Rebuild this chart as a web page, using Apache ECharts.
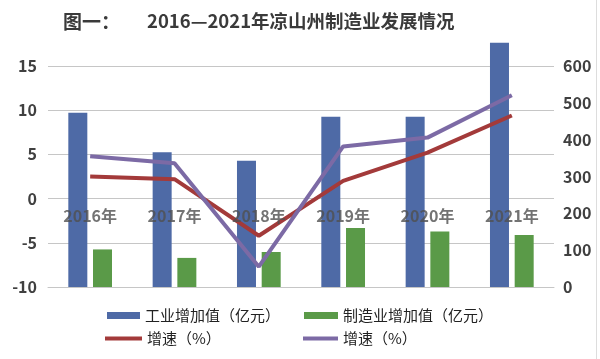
<!DOCTYPE html>
<html>
<head>
<meta charset="utf-8">
<script src="https://cdn.jsdelivr.net/npm/echarts@6/dist/echarts.min.js"></script>
<style>
  html, body { margin: 0; padding: 0; background: #ffffff; }
  #chart { width: 600px; height: 359px; }
</style>
</head>
<body>
<div id="chart"></div>
<script>
// ---- data ----
var years = ['2016年', '2017年', '2018年', '2019年', '2020年', '2021年'];
var industryValue = [473, 366, 343, 462, 462, 663];         // 工业增加值（亿元）
var manufacturingValue = [102, 79, 95, 160, 151, 141];      // 制造业增加值（亿元）
var industryGrowth = [2.5, 2.2, -4.2, 2.0, 5.2, 9.4];       // 增速(%) red
var manufacturingGrowth = [4.8, 4.0, -7.7, 5.9, 6.9, 11.7]; // 增速(%) purple
var categoryLabelBaseline = [0, 0, 0, 0, 0, 0];             // category labels sit on the 0 line
var leftTicks = { min: -10, max: 15, interval: 5 };
var rightTicks = { min: 0, max: 600, interval: 100 };

var nameBlue = '工业增加值（亿元）';
var nameGreen = '制造业增加值（亿元）';
var nameRed = '增速（%）';
var namePurple = '增速（%） ';

var FONT = '"Noto Sans CJK SC", "Noto Sans", sans-serif';
var chart = echarts.init(document.getElementById('chart'), null, { renderer: 'canvas' });

function legendFor(name, left, top, w, h) {
  return {
    data: [{ name: name, icon: 'rect' }],
    left: left, top: top, padding: 0,
    itemWidth: w, itemHeight: h,
    selectedMode: false,
    textStyle: { fontSize: 15, color: '#222', fontFamily: FONT }
  };
}

chart.setOption({
  backgroundColor: '#ffffff',
  animation: false,
  title: [
    { text: '图一：', left: 63, top: 12, padding: 0,
      textStyle: { fontSize: 19, fontWeight: 'bold', color: '#3a3a3a', fontFamily: FONT } },
    { text: '2016—2021年凉山州制造业发展情况', left: 147, top: 12, padding: 0,
      textStyle: { fontSize: 18.5, fontWeight: 'bold', color: '#3a3a3a', fontFamily: FONT } }
  ],
  legend: [
    legendFor(nameBlue, 107, 308, 33, 7),
    legendFor(nameGreen, 304, 308, 34, 7),
    legendFor(nameRed, 105, 331, 37, 4),
    legendFor(namePurple, 303, 331, 35, 4)
  ],
  graphic: [
    { type: 'line', shape: { x1: 596.5, y1: 0, x2: 596.5, y2: 359 },
      style: { stroke: '#dddddd', lineWidth: 1 } }
  ],
  grid: { left: 48, right: 46, top: 66, bottom: 72, containLabel: false },
  xAxis: {
    type: 'category',
    data: years,
    axisLine: { show: true, onZero: false, lineStyle: { color: '#c6c6c6', width: 1 } },
    axisTick: { show: false },
    axisLabel: { show: false }
  },
  yAxis: [
    {
      type: 'value',
      min: leftTicks.min, max: leftTicks.max, interval: leftTicks.interval,
      axisLine: { show: false }, axisTick: { show: false },
      splitLine: { show: true, lineStyle: { color: '#c6c6c6', width: 1 } },
      axisLabel: { fontSize: 16, fontWeight: 'bold', color: '#404040', margin: 11, fontFamily: FONT }
    },
    {
      type: 'value',
      min: rightTicks.min, max: rightTicks.max, interval: rightTicks.interval,
      axisLine: { show: false }, axisTick: { show: false },
      splitLine: { show: false },
      axisLabel: { fontSize: 16, fontWeight: 'bold', color: '#404040', margin: 9, fontFamily: FONT }
    }
  ],
  series: [
    { name: nameBlue, type: 'bar', yAxisIndex: 1, data: industryValue,
      barWidth: 19, barGap: '30%', clip: false,
      itemStyle: { color: '#4E6AA6' } },
    { name: nameGreen, type: 'bar', yAxisIndex: 1, data: manufacturingValue,
      barWidth: 19, barGap: '30%', clip: false,
      itemStyle: { color: '#5A9A48' } },
    { name: nameRed, type: 'line', yAxisIndex: 0, data: industryGrowth,
      symbol: 'none', lineStyle: { color: '#A33A3A', width: 4 }, itemStyle: { color: '#A33A3A' }, z: 4 },
    { name: namePurple, type: 'line', yAxisIndex: 0, data: manufacturingGrowth,
      symbol: 'none', lineStyle: { color: '#7C6AA5', width: 4 }, itemStyle: { color: '#7C6AA5' }, z: 5 },
    { name: 'categoryLabels', type: 'scatter', yAxisIndex: 0, data: categoryLabelBaseline,
      symbolSize: 0, silent: true, z: 10,
      label: { show: true, position: 'bottom', distance: 9, formatter: '{b}',
        fontSize: 16, fontWeight: 'bold', color: '#505050', fontFamily: FONT } }
  ]
});
</script>
</body>
</html>
